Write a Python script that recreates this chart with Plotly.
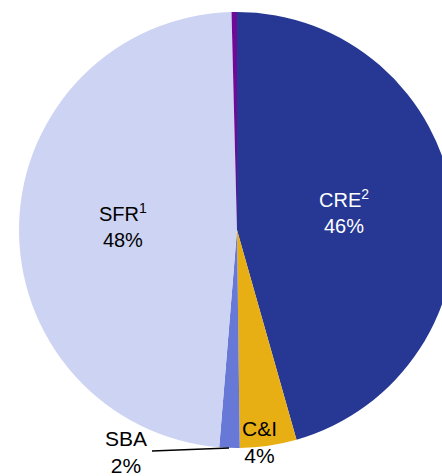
import plotly.graph_objects as go

# loan mix, share of portfolio (%)
categories = ['CRE', 'C&I', 'SBA', 'SFR', 'Other']
shares = [45.6, 4.2, 1.5, 48.3, 0.4]
slice_colors = ['#263894', '#E8AF14', '#6878D6', '#CDD3F2', '#6E0A96']

# label text shown on the chart
label_names = ['CRE<sup>2</sup>', 'C&I', 'SBA', 'SFR<sup>1</sup>']
label_pcts = ['46%', '4%', '2%', '48%']

W, H = 474, 476

fig = go.Figure(go.Pie(
    labels=categories,
    values=shares,
    sort=False,
    direction='clockwise',
    rotation=0,
    marker=dict(colors=slice_colors, line=dict(width=0)),
    textinfo='none',
    hoverinfo='label+percent',
    domain=dict(x=[19 / W, 455 / W], y=[28 / H, 464 / H]),
))

# where each label sits (pixels), its text colour and size
label_pos = [(344, 211, 'white', 20), (259, 442, 'black', 21),
             (126, 452, 'black', 21), (123, 225, 'black', 20)]

for name, pct, (px_, py_, col, sz) in zip(label_names, label_pcts, label_pos):
    fig.add_annotation(
        x=px_ / W, y=1 - py_ / H, xref='paper', yref='paper',
        text=name + '<br>' + pct, showarrow=False,
        xanchor='center', yanchor='middle',
        font=dict(family='Liberation Sans, Arial', size=sz, color=col),
    )

# leader line for SBA
fig.add_shape(type='line', xref='paper', yref='paper',
              x0=152 / W, y0=1 - 451 / H, x1=229 / W, y1=1 - 448 / H,
              line=dict(color='black', width=1.5))

fig.update_layout(
    width=W, height=H,
    margin=dict(l=0, r=0, t=0, b=0),
    showlegend=False,
    paper_bgcolor='white',
    plot_bgcolor='white',
)

fig.write_html("out.html", config={'displayModeBar': False},
               post_script="document.documentElement.style.overflow='hidden';document.body.style.overflow='hidden';document.body.style.margin='0';")
